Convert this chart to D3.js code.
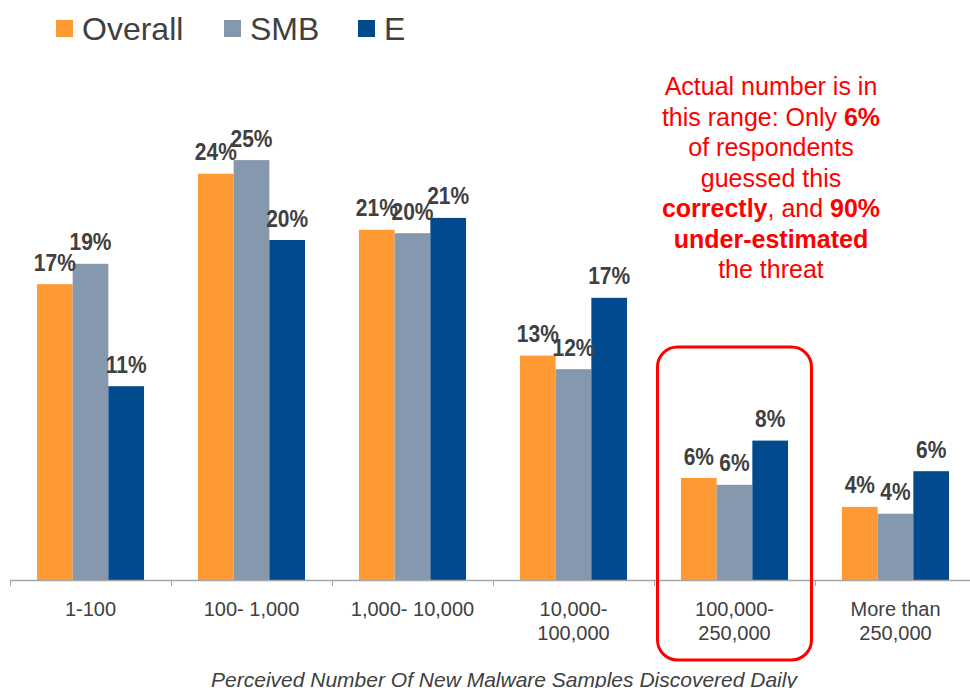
<!DOCTYPE html>
<html>
<head>
<meta charset="utf-8">
<script src="https://cdn.jsdelivr.net/npm/d3@7"></script>
<style>
  html, body { margin: 0; padding: 0; background: #fff; }
  svg { display: block; font-family: "Liberation Sans", Arial, sans-serif; }
</style>
</head>
<body>
<svg id="chart" width="970" height="688"></svg>
<script>
// ---- data ----
const categories = ["1-100", "100- 1,000", "1,000- 10,000", "10,000-\n100,000", "100,000-\n250,000", "More than\n250,000"];
const seriesNames = ["Overall", "SMB", "E"];
const overall = [0.174, 0.239, 0.206, 0.132, 0.060, 0.043];
const smb     = [0.186, 0.247, 0.204, 0.124, 0.056, 0.039];
const enterprise = [0.114, 0.200, 0.213, 0.166, 0.082, 0.064];
const seriesColors = ["#FF9933", "#8598AE", "#004A8D"];
const highlightCategory = "100,000-\n250,000";
const axisTitle = "Perceived Number Of New Malware Samples Discovered Daily";
const noteLines = [
  [["Actual number is in", false]],
  [["this range: Only ", false], ["6%", true]],
  [["of respondents", false]],
  [["guessed this", false]],
  [["correctly", true], [", and ", false], ["90%", true]],
  [["under-estimated", true]],
  [["the threat", false]]
];

const seriesValues = [overall, smb, enterprise];
const table = categories.map((c, i) => ({
  category: c,
  values: seriesNames.map((s, j) => ({ series: s, value: seriesValues[j][i] }))
}));

const svg = d3.select("#chart");
const baseY = 580;
const textColor = "#404040";

const x0 = d3.scaleBand().domain(categories).range([10, 976])
  .paddingInner(0.335).paddingOuter(0.1675);
const x1 = d3.scaleBand().domain(seriesNames).range([0, x0.bandwidth()]).padding(0);
const y = d3.scaleLinear().domain([0, 0.30]).range([baseY, 70]);
const color = d3.scaleOrdinal().domain(seriesNames).range(seriesColors);
const fmt = d3.format(".0%");

// legend
const legendX = [56, 224, 358];
const legend = svg.append("g");
seriesNames.forEach((s, i) => {
  legend.append("rect").attr("x", legendX[i]).attr("y", 20).attr("width", 17).attr("height", 17)
    .attr("fill", color(s));
  legend.append("text").attr("x", legendX[i] + 26).attr("y", 39.5)
    .attr("font-size", 32).attr("fill", textColor).text(s);
});

// bars
const groups = svg.append("g").selectAll("g").data(table).join("g")
  .attr("transform", d => `translate(${x0(d.category)},0)`);
groups.selectAll("rect").data(d => d.values).join("rect")
  .attr("x", d => x1(d.series))
  .attr("width", x1.bandwidth())
  .attr("y", d => y(d.value))
  .attr("height", d => baseY - y(d.value))
  .attr("fill", d => color(d.series));
groups.selectAll("text").data(d => d.values).join("text")
  .attr("transform", d => `translate(${x1(d.series) + x1.bandwidth() / 2},${y(d.value) - 13.5}) scale(1,1.1)`)
  .attr("text-anchor", "middle")
  .attr("font-size", 21).attr("font-weight", "bold").attr("fill", textColor)
  .text(d => fmt(d.value));

// x axis
const axisG = svg.append("g");
axisG.append("line").attr("x1", 10).attr("x2", 970).attr("y1", baseY + 0.5).attr("y2", baseY + 0.5)
  .attr("stroke", "#A6A6A6").attr("stroke-width", 1.5);
const half = (x0.step() - x0.bandwidth()) / 2;
const tickXs = categories.map(c => x0(c) - half);
tickXs.push(x0(categories[categories.length - 1]) + x0.bandwidth() + half);
axisG.selectAll("line.tick").data(tickXs).join("line").attr("class", "tick")
  .attr("x1", d => Math.round(d) + 0.5).attr("x2", d => Math.round(d) + 0.5)
  .attr("y1", baseY).attr("y2", baseY + 6)
  .attr("stroke", "#A6A6A6").attr("stroke-width", 1);
const labels = axisG.selectAll("text.cat").data(categories).join("text").attr("class", "cat")
  .attr("text-anchor", "middle").attr("font-size", 20).attr("fill", textColor);
labels.each(function(c) {
  const t = d3.select(this);
  c.split("\n").forEach((line, k) => {
    t.append("tspan").attr("x", x0(c) + x0.bandwidth() / 2).attr("y", 616 + k * 24).text(line);
  });
});

// axis title
svg.append("text").attr("x", 504).attr("y", 687).attr("text-anchor", "middle")
  .attr("font-size", 21).attr("font-style", "italic").attr("fill", textColor)
  .text(axisTitle);

// highlight box
const hx = x0(highlightCategory) + x0.bandwidth() / 2;
svg.append("rect").attr("x", hx - 77).attr("y", 347).attr("width", 154).attr("height", 313)
  .attr("rx", 20).attr("ry", 20).attr("fill", "none").attr("stroke", "#FF0000").attr("stroke-width", 3);

// annotation
const note = svg.append("text").attr("text-anchor", "middle").attr("font-size", 25).attr("fill", "#FF0000");
noteLines.forEach((parts, k) => {
  const line = note.append("tspan").attr("x", 771).attr("y", 95 + k * 30.5);
  parts.forEach(([txt, bold], m) => {
    const sp = m === 0 ? line : note.append("tspan");
    sp.text(txt).attr("font-weight", bold ? "bold" : "normal");
  });
});
</script>
</body>
</html>
